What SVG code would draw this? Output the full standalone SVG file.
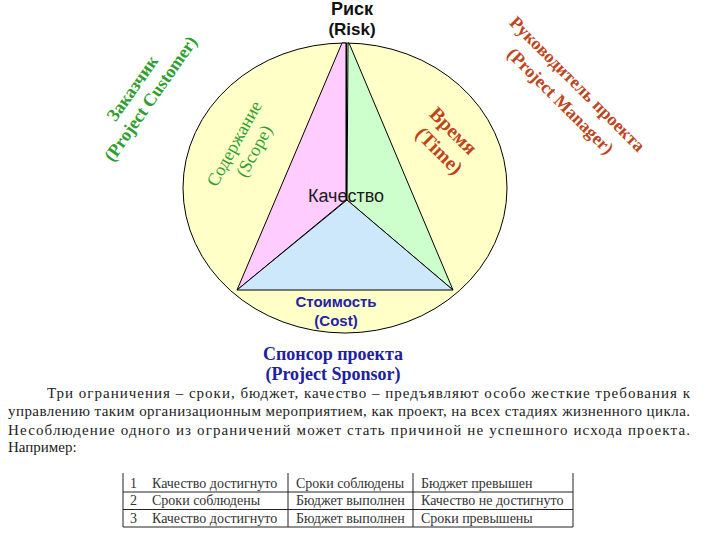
<svg xmlns="http://www.w3.org/2000/svg" width="720" height="540" viewBox="0 0 720 540">
<style>
.ln{stroke:#000;stroke-width:1;fill:none}
.sans{font-family:"Liberation Sans",Arial,sans-serif}
.serif{font-family:"Liberation Serif","Times New Roman",serif}
.grn{fill:#2e9e2e}
.red{fill:#c0441c}
.blu{fill:#2222a8}
.para{font-family:"Liberation Serif","Times New Roman",serif;font-size:15px;fill:#222}
.cell{font-family:"Liberation Serif","Times New Roman",serif;font-size:14px;fill:#333}
.tl{stroke:#222;stroke-width:1}
</style>
<rect width="720" height="540" fill="#fff"/>
<g id="circle">
<ellipse cx="345" cy="188" rx="162" ry="145" fill="#ffffc8" stroke="#000" stroke-width="1"/>
</g>
<g id="scope-triangle">
<polygon points="342,43 237,290 346,200 346,43" fill="#ffccff" stroke="#000" stroke-width="1"/>
</g>
<g id="time-triangle">
<polygon points="348,43 347,200 453,290 349,43" fill="#ccffcc" stroke="#000" stroke-width="1"/>
</g>
<g id="cost-triangle">
<polygon points="347,200 237,290 453,290" fill="#cce8fa" stroke="#000" stroke-width="1"/>
</g>
<g id="connectors">
<line class="ln" x1="346.5" y1="43" x2="346.5" y2="200"/>
</g>
<g id="risk" class="sans" font-weight="bold" text-anchor="middle" fill="#111">
<text x="352" y="15" font-size="18">Риск</text>
<text x="352" y="35" font-size="17">(Risk)</text>
</g>
<g id="quality">
<text x="346" y="202" class="sans" font-size="18" text-anchor="middle" fill="#1a1a1a">Качество</text>
</g>
<g id="cost" class="sans blu" font-weight="bold" font-size="15" text-anchor="middle">
<text x="336" y="307">Стоимость</text>
<text x="336" y="326">(Cost)</text>
</g>
<g id="sponsor" class="serif" font-weight="bold" font-size="18" text-anchor="middle" fill="#2020a0">
<text x="333" y="360">Спонсор проекта</text>
<text x="333" y="380">(Project Sponsor)</text>
</g>
<g id="customer" class="serif grn" font-weight="bold" font-size="18" text-anchor="middle" transform="translate(141.5,93.5) rotate(-55)">
<text x="-1" y="-4.5">Заказчик</text>
<text x="1" y="16.5">(Project Customer)</text>
</g>
<g id="scope" class="serif grn" font-size="18" text-anchor="middle" transform="translate(244.5,147.5) rotate(-61)">
<text x="-1.5" y="-5">Содержание</text>
<text x="1.5" y="16">(Scope)</text>
</g>
<g id="time" class="serif red" font-weight="bold" font-size="20" text-anchor="middle" transform="translate(446.5,140.5) rotate(45)">
<text x="-2" y="-5">Время</text>
<text x="2" y="19">(Time)</text>
</g>
<g id="manager" class="serif red" font-weight="bold" font-size="18" text-anchor="middle" transform="translate(569,92.5) rotate(45)">
<text x="0" y="-6">Руководитель проекта</text>
<text x="0" y="18">(Project Manager)</text>
</g>
<g id="paragraph" class="para">
<text x="47" y="398" textLength="643" lengthAdjust="spacing">Три ограничения – сроки, бюджет, качество – предъявляют особо жесткие требования к</text>
<text x="8" y="416" textLength="682" lengthAdjust="spacing">управлению таким организационным мероприятием, как проект, на всех стадиях жизненного цикла.</text>
<text x="8" y="435" textLength="682" lengthAdjust="spacing">Несоблюдение одного из ограничений может стать причиной не успешного исхода проекта.</text>
<text x="8" y="452">Например:</text>
</g>
<g id="table">
<line class="tl" x1="123" y1="473" x2="123" y2="527"/>
<line class="tl" x1="288" y1="473" x2="288" y2="527"/>
<line class="tl" x1="413" y1="473" x2="413" y2="527"/>
<line class="tl" x1="573" y1="473" x2="573" y2="527"/>
<line class="tl" x1="123" y1="492" x2="573" y2="492"/>
<line class="tl" x1="123" y1="509.5" x2="573" y2="509.5"/>
<line class="tl" x1="123" y1="527" x2="573" y2="527"/>
<g class="cell">
<text x="130" y="488">1</text><text x="152" y="488">Качество достигнуто</text><text x="296" y="488">Сроки соблюдены</text><text x="421" y="488">Бюджет превышен</text>
<text x="130" y="505">2</text><text x="152" y="505">Сроки соблюдены</text><text x="296" y="505">Бюджет выполнен</text><text x="421" y="505">Качество не достигнуто</text>
<text x="130" y="522.5">3</text><text x="152" y="522.5">Качество достигнуто</text><text x="296" y="522.5">Бюджет выполнен</text><text x="421" y="522.5">Сроки превышены</text>
</g>
</g>
</svg>
